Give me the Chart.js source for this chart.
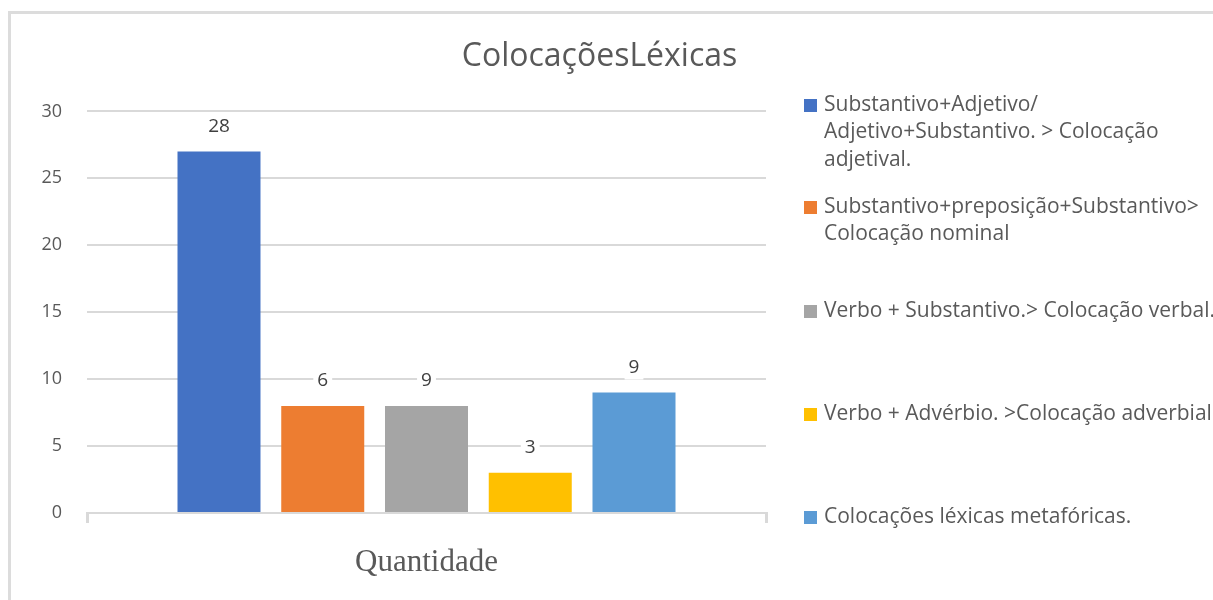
<!DOCTYPE html>
<html>
<head>
<meta charset="utf-8">
<script src="https://cdn.jsdelivr.net/npm/chart.js@4.4.1/dist/chart.umd.min.js"></script>
<style>
  html, body { margin: 0; padding: 0; background: #fff; }
  #wrap { position: relative; width: 1213px; height: 600px; overflow: hidden; }
  #frame { position: absolute; left: 8px; top: 11px; width: 1400px; height: 800px; border: 3px solid #dcdcdc; box-sizing: border-box; }
  #chart { position: absolute; left: 0; top: 0; }
</style>
</head>
<body>
<div id="wrap">
  <div id="frame"></div>
  <canvas id="chart" width="1213" height="600"></canvas>
</div>
<script>
// --- dados ---
const categories = ['Quantidade'];
const seriesNames = [
  'Substantivo+Adjetivo/\nAdjetivo+Substantivo. > Colocação\nadjetival.',
  'Substantivo+preposição+Substantivo>\nColocação nominal',
  'Verbo + Substantivo.> Colocação verbal.',
  'Verbo + Advérbio. >Colocação adverbial',
  'Colocações léxicas metafóricas.'
];
const barValues = [27, 8, 8, 3, 9];
// rótulos como aparecem no gráfico original (não batem com a altura das barras)
const barLabels = ['28', '6', '9', '3', '9'];
const colors = ['#4472C4', '#ED7D31', '#A5A5A5', '#FFC000', '#5B9BD5'];
const yTicks = { min: 0, max: 30, step: 5 };

const SANS = '"Open Sans", Lato, sans-serif';
const TEXT = '#595959';

// --- rótulos de dados ---
const dataLabels = {
  id: 'dataLabels',
  afterDatasetsDraw(chart) {
    const ctx = chart.ctx;
    ctx.save();
    ctx.font = '19px ' + SANS;
    ctx.textAlign = 'center';
    ctx.textBaseline = 'middle';
    chart.data.datasets.forEach((ds, i) => {
      const bar = chart.getDatasetMeta(i).data[0];
      const txt = barLabels[i];
      const w = ctx.measureText(txt).width + 8;
      const y = bar.y - 25;
      ctx.fillStyle = '#fff';
      ctx.fillRect(bar.x - w / 2, y - 12, w, 24);
      ctx.fillStyle = '#404040';
      ctx.fillText(txt, bar.x, y);
    });
    ctx.restore();
  }
};

// --- legenda à direita (com várias linhas) ---
const sideLegend = {
  id: 'sideLegend',
  afterDraw(chart) {
    const ctx = chart.ctx;
    const firstLines = [105, 207, 311, 414, 517];
    ctx.save();
    ctx.font = '21px ' + SANS;
    ctx.textAlign = 'left';
    ctx.textBaseline = 'middle';
    seriesNames.forEach((name, i) => {
      const y0 = firstLines[i];
      ctx.fillStyle = colors[i];
      ctx.fillRect(804, y0 - 6, 13, 13);
      ctx.fillStyle = TEXT;
      name.split('\n').forEach((line, j) => {
        ctx.fillText(line, 824, y0 + j * 27.5);
      });
    });
    ctx.restore();
  }
};

const ctx = document.getElementById('chart').getContext('2d');
new Chart(ctx, {
  type: 'bar',
  data: {
    labels: categories,
    datasets: seriesNames.map((name, i) => ({
      label: name,
      data: [barValues[i]],
      backgroundColor: colors[i],
      categoryPercentage: 0.764,
      barPercentage: 0.8
    }))
  },
  options: {
    responsive: false,
    animation: false,
    layout: { padding: { left: 0, right: 14, top: 0, bottom: 0 } },
    plugins: {
      legend: { display: false },
      tooltip: { enabled: false },
      title: {
        display: true,
        text: 'ColocaçõesLéxicas',
        color: TEXT,
        font: { family: SANS, size: 32, weight: 'normal' },
        padding: { top: 38, bottom: 35 }
      }
    },
    scales: {
      x: {
        grid: { drawOnChartArea: false, drawTicks: true, tickLength: 10, color: '#d9d9d9', lineWidth: 3, offset: true },
        border: { color: '#d9d9d9', width: 2 },
        ticks: { color: TEXT, padding: 21, font: { family: '"Liberation Serif", "DejaVu Serif", serif', size: 31 } },
        afterFit(scale) { scale.height = 87; }
      },
      y: {
        min: yTicks.min,
        max: yTicks.max,
        grid: { color: '#d9d9d9', lineWidth: 2, drawTicks: false },
        border: { display: false },
        ticks: { stepSize: yTicks.step, color: TEXT, padding: 25, font: { family: SANS, size: 18 } },
        afterFit(scale) { scale.width = 87; }
      },
      // espaço reservado para a legenda à direita
      legendSpace: {
        position: 'right',
        grid: { display: false },
        border: { display: false },
        ticks: { display: false },
        afterFit(scale) { scale.width = 433; }
      }
    }
  },
  plugins: [dataLabels, sideLegend]
});
</script>
</body>
</html>
